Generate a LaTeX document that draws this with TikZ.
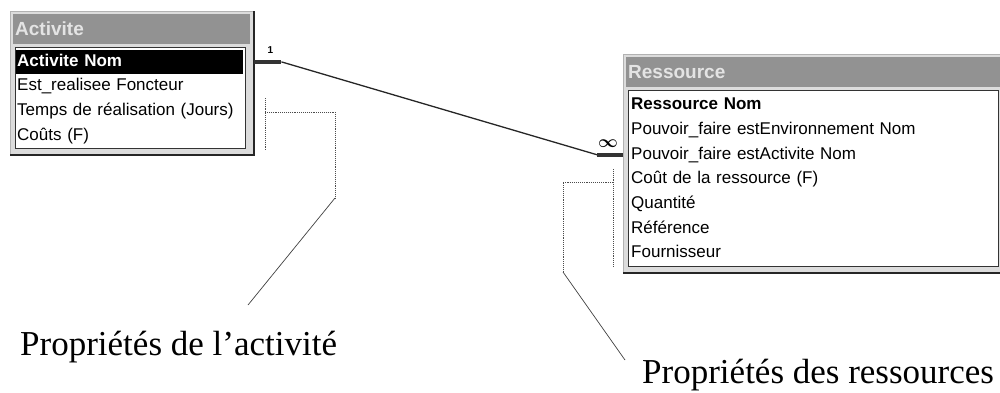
\documentclass[tikz,border=0pt]{standalone}
\usepackage{fontspec}
\setmainfont{Liberation Serif}
\setsansfont{Liberation Sans}
\usepackage{xcolor}
\usetikzlibrary{positioning,calc}
\definecolor{winbar}{HTML}{929292}
\definecolor{winface}{HTML}{DCDCDC}
\definecolor{wintext}{HTML}{E4E4E4}
\tikzset{
  frame/.style={fill=winface, draw=black!30, anchor=north west, inner sep=0pt},
  titlebar/.style={fill=winbar, text=wintext, anchor=north west, align=left, text width=#1,
                   font=\fontsize{19}{19}\selectfont\sffamily\bfseries, inner xsep=2pt, inner ysep=0pt,
                   text height=14pt, text depth=2pt, minimum height=30pt},
  body/.style={fill=white, draw=black!80, line width=1pt, anchor=north west, inner sep=0pt},
  field/.style={text width=#1, align=left, font=\fontsize{17}{17}\selectfont\sffamily,
                inner xsep=1pt, inner ysep=0pt, text height=12.5pt, text depth=4pt, minimum height=24.3pt},
  keyfield/.style={field=#1, font=\fontsize{17}{17}\selectfont\sffamily\bfseries},
  shadow/.style={draw=black!85, line width=2pt},
  link/.style={draw=black!85, line width=1.3pt},
  stub/.style={draw=black!80, line width=3.5pt},
  card/.style={font=\fontsize{10}{10}\selectfont\sffamily\bfseries, inner sep=1pt},
  brace/.style={draw=black!70, densely dotted, line width=0.9pt},
  lead/.style={draw=black!75, line width=0.7pt},
  caption/.style={font=\fontsize{35}{40}\selectfont, anchor=base west, inner sep=0pt},
}
\begin{document}
\begin{tikzpicture}[x=1pt, y=-1pt]
  \useasboundingbox (0,0) rectangle (1000,392);
  % table Activite
  \node[frame, minimum width=244pt, minimum height=144pt] (act) at (10,11) {};
  \node[titlebar=233pt] (actT) at (13,14) {Activite};
  \node[body, minimum width=230pt, minimum height=101pt] (actB) at (15,47) {};
  \node[keyfield=225pt, fill=black, text=white, anchor=north west] (aNom) at (16,49.5) {Activite Nom};
  \node[field=225pt, below=0pt of aNom] (aEst) {Est\_realisee Foncteur};
  \node[field=225pt, below=0pt of aEst] (aTemps) {Temps de réalisation (Jours)};
  \node[field=225pt, below=0pt of aTemps] (aCout) {Coûts (F)};
  \draw[shadow] (act.north east) -- (act.south east) -- (act.south west);
  % table Ressource
  \node[frame, minimum width=380pt, minimum height=219pt] (res) at (623,54) {};
  \node[titlebar=374pt] (resT) at (626,57) {Ressource};
  \node[body, minimum width=370pt, minimum height=176pt] (resB) at (628,90) {};
  \node[keyfield=362pt, anchor=north west] (rNom) at (630,93) {Ressource Nom};
  \node[field=362pt, below=0pt of rNom] (rEnv) {Pouvoir\_faire estEnvironnement Nom};
  \node[field=362pt, below=0pt of rEnv] (rAct) {Pouvoir\_faire estActivite Nom};
  \node[field=362pt, below=0pt of rAct] (rCout) {Coût de la ressource (F)};
  \node[field=362pt, below=0pt of rCout] (rQte) {Quantité};
  \node[field=362pt, below=0pt of rQte] (rRef) {Référence};
  \node[field=362pt, below=0pt of rRef] (rFour) {Fournisseur};
  \draw[shadow] (res.south west) -- (res.south east);
  % relation 1 - infini
  \draw[stub] (act.east |- aNom) -- ++(27,0) coordinate (s1);
  \draw[stub] (res.west |- rAct) -- ++(-26,0) coordinate (s2);
  \draw[link] (s1) -- (s2);
  \node[card] (one) at ($(s1)+(-11,-12)$) {1};
  \node[card, font=\fontsize{17}{17}\selectfont\boldmath] (many) at ($(s2)+(11,-11)$) {$\infty$};
  % proprietes
  \node[caption] (propA) at (20,355) {Propriétés de l'activité};
  \node[caption] (propR) at (642,383) {Propriétés des ressources};
  \coordinate (bA1) at (265,98);  \coordinate (bA2) at (265,150);
  \coordinate (bA3) at (265,112); \coordinate (bA4) at (335,112);
  \coordinate (bA5) at (335,198); \coordinate (tipA) at (248,305);
  \coordinate (bR1) at (613,169); \coordinate (bR2) at (613,267);
  \coordinate (bR3) at (613,182); \coordinate (bR4) at (563,182);
  \coordinate (bR5) at (563,272); \coordinate (tipR) at (625,360);
  \draw[brace] (bA1) -- (bA2);
  \draw[brace] (bA3) -- (bA4) -- (bA5);
  \draw[lead] (bA5) -- (tipA);
  \draw[brace] (bR1) -- (bR2);
  \draw[brace] (bR3) -- (bR4) -- (bR5);
  \draw[lead] (bR5) -- (tipR);
\end{tikzpicture}
\end{document}
